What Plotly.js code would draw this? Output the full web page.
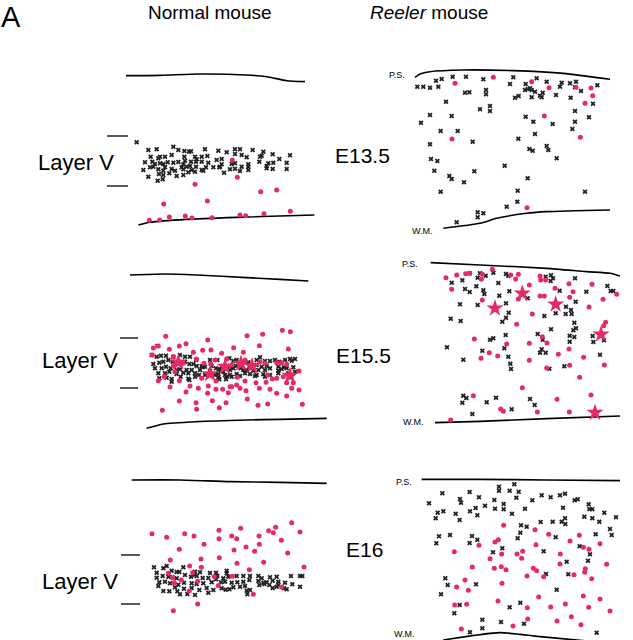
<!DOCTYPE html>
<html><head><meta charset="utf-8">
<script src="https://cdn.plot.ly/plotly-3.0.1.min.js"></script>
<style>html,body{margin:0;padding:0;background:#fff}#chart{width:633px;height:640px}</style>
</head><body><div id="chart"></div>
<script>
// ---------- DATA (cell positions in each panel's local drawing units) ----------
// E13.5 normal
const e135NormalCross = [[50,247],[85,270],[110,268],[160,260],[175,270],[193,273],[207,275],[213,274],[255,268],[295,272],[320,277],[345,268],[360,268],[398,270],[430,275],[92,290],[115,295],[120,290],[135,290],[155,285],[193,290],[225,290],[230,298],[245,290],[262,288],[290,300],[305,297],[345,282],[365,285],[380,292],[420,290],[425,287],[458,283],[478,297],[510,286],[75,307],[97,305],[105,312],[120,310],[130,312],[143,307],[160,308],[175,306],[190,313],[195,302],[213,305],[228,305],[245,305],[265,308],[300,320],[305,313],[335,312],[345,310],[365,320],[385,313],[385,320],[418,305],[440,318],[445,310],[460,308],[500,308],[70,330],[90,322],[100,320],[115,328],[135,322],[155,327],[165,332],[185,322],[190,328],[200,320],[210,318],[215,330],[228,320],[245,330],[258,322],[280,322],[298,322],[312,338],[330,328],[345,326],[360,333],[385,330],[440,325],[458,327],[500,327],[85,350],[117,342],[130,345],[148,340],[170,348],[190,345],[205,337],[225,335],[113,362],[128,358],[250,332],[130,332]];
const e135NormalDot = [[337,300],[352,352],[225,373],[422,395],[470,390],[131,432],[262,423],[88,481],[119,480],[148,471],[196,468],[216,474],[276,473],[360,465],[377,467],[432,461],[511,454]];
const e135NormalPial = [[18,47],[120,46],[240,42],[380,45],[440,50],[500,62],[555,65]];
const e135NormalWM = [[55,495],[90,487],[200,478],[350,472],[583,465]];
// E13.5 reeler
const e135ReelerCross = [[112,80],[130,80],[150,83],[168,62],[175,80],[185,57],[218,50],[258,50],[310,58],[400,52],[390,72],[470,55],[500,65],[437,72],[545,68],[570,70],[588,65],[603,93],[652,76],[540,80],[435,90],[443,87],[450,85],[455,90],[465,95],[480,107],[488,98],[405,113],[416,108],[455,112],[485,112],[528,105],[572,113],[585,82],[255,98],[268,97],[318,90],[318,103],[198,125],[330,138],[330,153],[300,148],[150,165],[123,188],[215,168],[437,170],[460,185],[518,192],[585,153],[585,185],[627,172],[577,207],[639,131],[182,213],[233,213],[278,245],[150,253],[415,236],[465,222],[448,267],[458,272],[500,258],[505,270],[530,295],[153,297],[172,303],[163,332],[208,348],[215,357],[252,367],[283,334],[374,317],[443,355],[182,395],[413,392],[615,395],[412,425],[380,440],[293,457],[310,460],[293,472],[230,487]];
const e135ReelerDot = [[225,70],[340,52],[455,65],[507,83],[588,82],[633,84],[638,107],[615,130],[493,168],[601,232],[216,237],[441,443]];
const e135ReelerPial = [[105,52],[120,42],[150,35],[250,30],[400,32],[550,40],[690,58]];
const e135ReelerWM = [[190,505],[300,490],[350,475],[440,460],[500,455],[690,450]];
// E15.5 normal
const e155NormalCross = [[82,258],[65,285],[80,290],[93,287],[108,287],[130,290],[150,285],[165,290],[180,290],[198,300],[215,318],[240,300],[262,300],[298,295],[310,303],[320,300],[355,307],[380,300],[390,292],[405,303],[420,303],[435,300],[448,305],[465,300],[480,297],[495,297],[485,302],[70,312],[88,308],[100,305],[115,300],[128,305],[165,305],[178,312],[190,312],[200,318],[225,320],[245,318],[258,325],[270,328],[275,320],[300,318],[318,318],[332,325],[350,330],[358,320],[380,315],[395,320],[410,318],[420,325],[445,320],[462,322],[490,322],[75,325],[95,325],[108,320],[122,325],[140,330],[150,328],[170,330],[185,330],[210,330],[218,322],[240,332],[265,330],[280,335],[300,330],[310,325],[340,330],[370,332],[385,330],[405,330],[445,332],[455,327],[470,325],[85,340],[105,340],[118,335],[140,342],[160,338],[175,340],[195,340],[207,345],[225,345],[255,345],[265,342],[285,345],[300,345],[320,342],[345,340],[360,342],[380,345],[400,343],[420,345],[445,340],[475,340],[495,335],[88,355],[110,353],[125,357],[152,350],[175,356],[195,350],[265,352],[290,350],[305,350],[320,350],[330,348],[375,348],[405,350],[125,365],[178,360],[268,358],[288,358]];
const e155NormalDot = [[107,229],[70,264],[85,258],[118,268],[148,258],[168,251],[190,277],[218,271],[233,240],[243,270],[275,280],[311,263],[340,277],[351,227],[388,257],[398,223],[457,211],[481,215],[475,267],[67,285],[130,318],[160,310],[200,297],[222,310],[242,312],[255,300],[290,297],[305,315],[345,300],[390,305],[405,310],[440,308],[455,308],[470,313],[507,333],[85,362],[103,350],[135,335],[120,381],[148,362],[180,378],[205,385],[235,378],[258,363],[278,388],[300,380],[320,375],[345,363],[378,368],[408,367],[427,357],[440,355],[470,368],[490,368],[485,385],[168,396],[233,400],[258,388],[295,398],[305,380],[330,385],[348,392],[388,385],[420,388],[440,400],[470,408],[507,390],[148,423],[198,428],[247,422],[268,443],[288,428],[352,417],[384,436],[413,432],[517,433],[97,451],[200,448],[322,352],[215,355],[130,290],[460,350],[413,345]];
const e155NormalStar = [[145,307],[240,342],[285,320],[333,311],[366,318],[480,347]];
const e155NormalPial = [[0,45],[100,42],[200,45],[350,53],[450,58],[535,63]];
const e155NormalWM = [[50,505],[100,492],[200,485],[350,480],[450,478],[590,475]];
// E15.5 reeler
const e155ReelerCross = [[215,98],[247,91],[269,70],[293,83],[300,70],[317,77],[340,68],[378,72],[385,77],[497,80],[513,76],[512,93],[519,85],[585,85],[240,163],[255,117],[269,126],[289,109],[310,121],[313,132],[355,99],[358,137],[388,124],[443,145],[539,122],[587,155],[619,125],[682,108],[692,123],[700,123],[212,206],[242,213],[293,165],[378,160],[386,188],[378,203],[367,215],[527,190],[558,170],[573,180],[575,192],[557,192],[493,198],[513,238],[583,218],[588,235],[580,241],[569,257],[569,275],[583,261],[638,258],[640,276],[672,271],[330,269],[340,265],[377,255],[473,252],[488,269],[485,298],[480,308],[497,308],[307,302],[373,295],[385,320],[391,341],[393,357],[201,292],[250,329],[508,356],[553,349],[660,314],[250,437],[259,444],[247,458],[320,457],[348,443],[450,447],[464,465],[395,478],[277,492]];
const e155ReelerDot = [[198,83],[230,75],[257,71],[269,70],[307,73],[337,58],[304,88],[392,75],[415,73],[407,87],[480,78],[482,90],[497,90],[215,118],[307,150],[448,105],[415,147],[480,138],[493,138],[525,115],[567,101],[579,125],[569,142],[636,103],[627,171],[669,148],[710,133],[457,192],[410,223],[283,267],[328,308],[303,325],[353,318],[380,282],[448,280],[487,260],[501,279],[448,331],[535,313],[567,297],[569,346],[611,322],[677,217],[671,227],[673,345],[500,354],[599,382],[427,413],[633,435],[531,448],[280,437],[362,477],[370,484],[472,486],[568,486],[212,510]];
const e155ReelerStar = [[427,130],[345,175],[527,163],[663,253],[645,488]];
const e155ReelerPial = [[152,38],[300,45],[500,55],[620,65],[690,70],[720,78]];
const e155ReelerWM = [[165,518],[300,514],[500,506],[720,498]];
// E16 normal
const e16NormalCross = [[72,322],[100,325],[110,318],[125,332],[140,336],[148,336],[160,322],[195,335],[210,337],[240,339],[258,338],[290,332],[290,340],[80,338],[80,353],[98,348],[115,350],[127,352],[140,355],[165,345],[183,350],[193,345],[200,348],[218,354],[235,354],[258,358],[262,348],[280,355],[295,350],[320,348],[340,348],[360,348],[385,348],[395,355],[420,352],[440,350],[483,348],[510,348],[517,348],[88,367],[105,365],[120,370],[145,374],[162,368],[185,370],[200,372],[220,370],[245,367],[273,367],[285,365],[305,368],[322,367],[340,365],[358,360],[385,363],[400,368],[410,367],[428,362],[445,365],[465,368],[487,373],[85,378],[100,393],[118,394],[135,382],[142,394],[150,403],[162,386],[172,402],[185,384],[195,405],[208,390],[230,384],[235,398],[250,390],[275,385],[287,389],[298,388],[310,382],[330,380],[345,378],[350,392],[352,403],[360,390],[388,375],[403,372],[418,375],[428,384],[440,380],[445,375],[462,385],[470,388],[510,380]];
const e16NormalDot = [[66,221],[110,232],[164,221],[192,228],[148,268],[222,253],[267,211],[267,236],[305,228],[320,236],[332,205],[312,270],[348,261],[374,274],[387,228],[388,253],[416,212],[430,218],[437,202],[454,241],[485,188],[510,216],[473,279],[121,300],[213,297],[268,293],[321,310],[179,318],[214,322],[401,307],[522,321],[358,329],[115,340],[128,354],[188,338],[253,350],[307,349],[154,360],[203,364],[133,368],[265,377],[178,393],[455,381],[370,403],[203,432],[130,452]];
const e16NormalPial = [[5,60],[150,60],[300,65],[450,67],[590,70]];
// E16 reeler
const e16ReelerCross = [[147,100],[187,70],[240,87],[243,98],[269,66],[297,82],[315,107],[343,90],[357,50],[357,62],[371,102],[389,62],[403,43],[416,65],[409,83],[457,91],[485,76],[512,82],[540,76],[555,71],[584,91],[593,88],[626,103],[628,117],[637,118],[673,128],[708,142],[173,128],[190,124],[167,145],[227,131],[239,150],[270,124],[287,114],[292,136],[345,116],[371,118],[396,131],[435,116],[482,156],[518,155],[545,155],[555,145],[556,162],[549,113],[613,140],[637,145],[658,155],[423,166],[421,188],[413,205],[527,202],[177,199],[210,195],[169,220],[276,198],[292,209],[269,219],[367,235],[339,247],[491,244],[599,229],[630,253],[624,272],[560,275],[565,313],[498,312],[647,193],[690,177],[695,195],[196,325],[203,345],[288,343],[183,373],[530,359],[239,405],[223,430],[389,412],[421,398],[307,449],[307,475],[270,487],[363,456],[432,461],[650,488],[440,170]];
const e16ReelerDot = [[371,166],[465,179],[506,193],[598,196],[570,213],[660,221],[297,226],[345,216],[355,209],[468,224],[223,245],[330,266],[365,252],[411,252],[428,244],[425,265],[541,252],[610,232],[627,238],[540,282],[680,283],[277,291],[343,295],[364,290],[378,299],[460,295],[470,302],[441,318],[491,320],[582,314],[616,296],[614,307],[635,326],[255,330],[230,351],[265,361],[366,340],[476,381],[354,393],[610,378],[660,387],[224,405],[260,403],[442,413],[512,411],[556,402],[626,412],[690,423],[443,447],[574,440],[531,453],[603,464],[399,468],[244,477],[725,505]];
const e16ReelerPial = [[125,28],[300,28],[500,30],[720,32]];
const e16ReelerWM = [[190,510],[360,488],[480,500],[720,522]];

const stageLabels = ['E13.5','E15.5','E16'];
const columnTitles = ['Normal mouse','<i>Reeler</i> mouse'];

// ---------- LAYOUT CONSTANTS ----------
const W = 633, H = 640, S = 3;
const panelBoxes = [ // [left, top, width, height] in page pixels
  [120,60,200,170],[380,60,230,180],
  [130,260,200,180],[380,250,240,180],
  [130,460,200,180],[380,470,240,170]
];
const panelData = [
  {cross:e135NormalCross, dot:e135NormalDot, star:[], lines:[e135NormalPial,e135NormalWM]},
  {cross:e135ReelerCross, dot:e135ReelerDot, star:[], lines:[e135ReelerPial,e135ReelerWM]},
  {cross:e155NormalCross, dot:e155NormalDot, star:e155NormalStar, lines:[e155NormalPial,e155NormalWM]},
  {cross:e155ReelerCross, dot:e155ReelerDot, star:e155ReelerStar, lines:[e155ReelerPial,e155ReelerWM]},
  {cross:e16NormalCross, dot:e16NormalDot, star:[], lines:[e16NormalPial]},
  {cross:e16ReelerCross, dot:e16ReelerDot, star:[], lines:[e16ReelerPial,e16ReelerWM]}
];
const PINK = '#e62a63', INK = '#222';
const FONT = 'Liberation Sans, Arial, Helvetica, sans-serif';

const traces = [];
const layout = {
  width: W, height: H, margin:{l:0,r:0,t:0,b:0},
  paper_bgcolor:'#fff', plot_bgcolor:'rgba(0,0,0,0)',
  showlegend:false, annotations:[], shapes:[]
};
const xs = a => a.map(p=>p[0]), ys = a => a.map(p=>p[1]);

panelData.forEach((pd,i)=>{
  const n = i+1, sfx = n===1?'':String(n);
  const [l,t,w,h] = panelBoxes[i];
  layout['xaxis'+sfx] = {domain:[l/W,(l+w)/W], range:[0,w*S], visible:false, fixedrange:true, anchor:'y'+sfx};
  layout['yaxis'+sfx] = {domain:[1-(t+h)/H,1-t/H], range:[h*S,0], visible:false, fixedrange:true, anchor:'x'+sfx};
  const ax = {xaxis:'x'+sfx, yaxis:'y'+sfx};
  pd.lines.forEach(ln=>traces.push(Object.assign({type:'scatter',mode:'lines',x:xs(ln),y:ys(ln),
    line:{color:'#000',width:1.6,shape:'spline',smoothing:0.6},hoverinfo:'skip'},ax)));
  traces.push(Object.assign({type:'scatter',mode:'markers',x:xs(pd.cross),y:ys(pd.cross),cliponaxis:false,
    marker:{symbol:'x',size:4.5,color:INK,line:{width:0}}},ax));
  traces.push(Object.assign({type:'scatter',mode:'markers',x:xs(pd.dot),y:ys(pd.dot),cliponaxis:false,
    marker:{symbol:'circle',size:5,color:PINK,line:{width:0}}},ax));
  if (pd.star.length) traces.push(Object.assign({type:'scatter',mode:'markers',x:xs(pd.star),y:ys(pd.star),cliponaxis:false,
    marker:{symbol:'star',size:13,color:PINK,line:{width:0}}},ax));
});

// text helpers (page pixels -> paper)
function txt(s,x,y,size,opts){
  layout.annotations.push(Object.assign({text:s,xref:'paper',yref:'paper',x:x/W,y:1-y/H,
    xanchor:'center',yanchor:'middle',showarrow:false,font:{family:FONT,size:size,color:'#000'}},opts||{}));
}
function tick(x0,x1,y){
  layout.shapes.push({type:'line',xref:'paper',yref:'paper',x0:x0/W,x1:x1/W,y0:1-y/H,y1:1-y/H,line:{color:'#000',width:1.3}});
}
txt('A',11,17,29);
txt(columnTitles[0],210,13,19);
txt(columnTitles[1],429,13,19);
txt(stageLabels[0],362,155,21);
txt(stageLabels[1],363,355,21);
txt(stageLabels[2],364,549,21);
txt('Layer V',76,162,22);
txt('Layer V',80,360,22);
txt('Layer V',80,581,22);
tick(107,128,136); tick(107,128,186);
tick(120,138,338); tick(120,138,388);
tick(121,140,555); tick(121,140,604);
txt('P.S.',397,75,9); txt('P.S.',410,264,9); txt('P.S.',404,482,9);
txt('W.M.',422,231,9); txt('W.M.',413,422,9); txt('W.M.',404,634,9);

Plotly.newPlot('chart', traces, layout, {staticPlot:true, displayModeBar:false});
</script></body></html>
